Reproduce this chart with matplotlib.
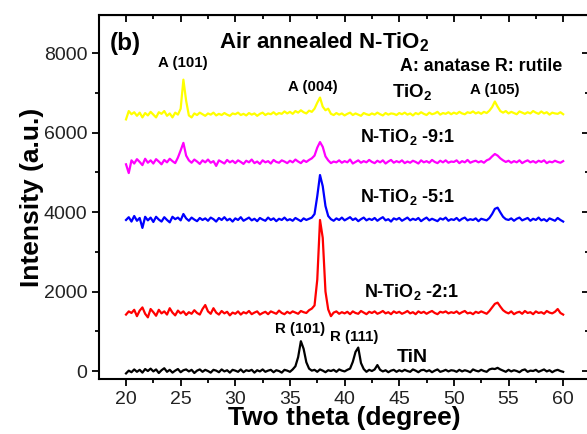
import numpy as np
import matplotlib
matplotlib.use('Agg')
import matplotlib.pyplot as plt
from matplotlib.ticker import MultipleLocator

plt.rcParams['font.family'] = ['Liberation Sans', 'DejaVu Sans']
plt.rcParams['mathtext.fontset'] = 'custom'
plt.rcParams['mathtext.rm'] = 'Liberation Sans:bold'
plt.rcParams['mathtext.bf'] = 'Liberation Sans:bold'
plt.rcParams['mathtext.default'] = 'bf'

# two theta grid, 20-60 deg, 0.25 deg step
two_theta = np.arange(161) * 0.25 + 20

tin = [-60, 10, -30, 40, -20, 30, -40, 50, 0, 60,
       -10, 40, -50, 20, 70, -20, 30, -40, 10, 50,
       -30, 20, 40, -10, 30, -50, 10, 40, -20, 30,
       0, -40, 30, 10, -30, 40, -10, 20, -40, 30,
       10, -20, 40, -30, 20, 0, 30, -40, 20, -10,
       40, -20, 10, 30, -30, 20, 0, -40, 30, 10,
       -20, 40, 120, 350, 750, 560, 220, 60, 10, 30,
       -20, 40, 10, -30, 20, 0, 30, -20, 40, 10,
       -10, 30, 60, 230, 480, 590, 200, 50, -20, 30,
       0, 40, 150, 30, -10, 20, -30, 10, 30, -20,
       20, -10, 30, 0, -20, 40, 10, -30, 20, 30,
       -10, 20, -30, 10, 40, -20, 0, 30, -10, 20,
       10, -20, 30, -10, 20, 0, -30, 40, 10, -10,
       30, 0, -20, 40, 60, 50, 80, 40, 10, -20,
       30, -10, 20, 0, -30, 20, 40, -20, 10, 0,
       30, -20, 10, 40, -10, 20, -30, 10, 30, 0,
       -20]

ratio_2 = [1420, 1500, 1460, 1540, 1380, 1520, 1600, 1440, 1350, 1560,
           1480, 1390, 1540, 1450, 1500, 1420, 1580, 1470, 1400, 1520,
           1450, 1500, 1410, 1480, 1440, 1530, 1460, 1420, 1560, 1660,
           1500, 1440, 1580, 1470, 1420, 1510, 1450, 1490, 1400, 1470,
           1440, 1500, 1420, 1480, 1450, 1510, 1430, 1470, 1500, 1420,
           1460, 1490, 1430, 1500, 1470, 1440, 1520, 1460, 1430, 1490,
           1450, 1500, 1470, 1440, 1510, 1480, 1460, 1530, 1570, 1650,
           2300, 3800, 3350, 2000, 1550, 1380, 1470, 1500, 1440, 1480,
           1450, 1490, 1430, 1500, 1460, 1440, 1510, 1470, 1430, 1490,
           1460, 1500, 1440, 1470, 1510, 1450, 1480, 1430, 1500, 1460,
           1490, 1440, 1470, 1510, 1450, 1480, 1430, 1500, 1460, 1490,
           1440, 1480, 1510, 1460, 1430, 1490, 1470, 1500, 1450, 1480,
           1460, 1500, 1440, 1480, 1510, 1450, 1470, 1430, 1490, 1460,
           1500, 1470, 1440, 1510, 1600, 1690, 1720, 1620, 1530, 1480,
           1450, 1500, 1430, 1470, 1490, 1440, 1510, 1460, 1480, 1430,
           1500, 1460, 1480, 1440, 1510, 1470, 1450, 1490, 1560, 1460,
           1420]

ratio_5 = [3800, 3870, 3760, 3900, 3780, 3850, 3600, 3880, 3790, 3860,
           3750, 3880, 3810, 3760, 3870, 3800, 3740, 3880, 3820, 3860,
           3790, 3950, 3840, 3780, 3860, 3810, 3770, 3850, 3800, 3840,
           3780, 3860, 3820, 3760, 3850, 3800, 3870, 3790, 3830, 3760,
           3840, 3800, 3870, 3780, 3820, 3860, 3790, 3830, 3770, 3850,
           3810, 3780, 3860, 3800, 3840, 3770, 3830, 3800, 3860, 3790,
           3820, 3780, 3850, 3810, 3770, 3840, 3800, 3830, 3860, 3950,
           4400, 4930, 4650, 4150, 3900, 3820, 3780, 3840, 3800, 3860,
           3790, 3830, 3870, 3800, 3840, 3770, 3820, 3860, 3790, 3830,
           3800, 3850, 3780, 3830, 3870, 3790, 3820, 3760, 3840, 3810,
           3850, 3780, 3820, 3860, 3790, 3830, 3800, 3850, 3770, 3820,
           3860, 3790, 3830, 3800, 3770, 3840, 3810, 3860, 3780, 3820,
           3800, 3850, 3780, 3830, 3860, 3790, 3820, 3800, 3840, 3770,
           3830, 3810, 3790, 3850, 3950, 4080, 4110, 3990, 3880, 3820,
           3800, 3840, 3780, 3830, 3860, 3790, 3820, 3850, 3780, 3830,
           3800, 3860, 3790, 3820, 3770, 3840, 3810, 3780, 3850, 3800,
           3760]

ratio_9 = [5200, 4980, 5300, 5220, 5330, 5260, 5180, 5340, 5240, 5300,
           5220, 5330, 5270, 5200, 5310, 5250, 5340, 5280, 5230, 5370,
           5550, 5740, 5420, 5300, 5240, 5320, 5270, 5210, 5300, 5250,
           5320, 5240, 5280, 5160, 5300, 5260, 5220, 5310, 5250, 5290,
           5230, 5300, 5260, 5210, 5290, 5250, 5320, 5230, 5270, 5210,
           5300, 5250, 5280, 5220, 5310, 5260, 5240, 5300, 5270, 5230,
           5290, 5250, 5320, 5270, 5230, 5300, 5260, 5310, 5350, 5420,
           5620, 5760, 5640, 5400, 5300, 5230, 5270, 5250, 5300, 5240,
           5280, 5250, 5320, 5220, 5260, 5300, 5240, 5280, 5250, 5310,
           5260, 5230, 5290, 5250, 5300, 5220, 5270, 5310, 5240, 5280,
           5250, 5300, 5230, 5270, 5240, 5290, 5260, 5220, 5300, 5250,
           5280, 5240, 5310, 5260, 5230, 5290, 5250, 5300, 5240, 5270,
           5260, 5300, 5230, 5280, 5250, 5310, 5240, 5270, 5290, 5250,
           5280, 5240, 5300, 5330, 5400, 5460, 5420, 5350, 5300, 5260,
           5290, 5240, 5280, 5250, 5300, 5230, 5270, 5300, 5250, 5280,
           5240, 5290, 5260, 5300, 5230, 5270, 5250, 5290, 5260, 5240,
           5280]

tio2 = [6330, 6540, 6460, 6510, 6420, 6500, 6380, 6490, 6430, 6520,
        6450, 6380, 6510, 6470, 6540, 6420, 6480, 6380, 6500, 6450,
        6600, 7330, 6800, 6430, 6380, 6480, 6440, 6500, 6460, 6420,
        6480, 6450, 6500, 6430, 6470, 6440, 6490, 6450, 6420, 6480,
        6460, 6500, 6440, 6470, 6430, 6490, 6450, 6480, 6420, 6470,
        6500, 6440, 6480, 6460, 6510, 6450, 6490, 6470, 6530, 6480,
        6520, 6470, 6540, 6500, 6560, 6510, 6480, 6550, 6520, 6600,
        6750, 6880, 6650, 6560, 6600, 6470, 6440, 6490, 6450, 6480,
        6430, 6470, 6500, 6440, 6480, 6450, 6420, 6490, 6460, 6440,
        6480, 6450, 6500, 6460, 6430, 6490, 6450, 6480, 6470, 6440,
        6490, 6460, 6500, 6450, 6480, 6430, 6490, 6460, 6510, 6470,
        6440, 6500, 6460, 6480, 6520, 6450, 6490, 6470, 6510, 6460,
        6500, 6470, 6520, 6480, 6460, 6510, 6490, 6530, 6480, 6510,
        6470, 6520, 6490, 6550, 6640, 6780, 6650, 6540, 6500, 6540,
        6480, 6520, 6490, 6460, 6530, 6500, 6470, 6510, 6480, 6540,
        6500, 6470, 6530, 6480, 6510, 6450, 6500, 6480, 6470, 6510,
        6460]

fig = plt.figure(figsize=(5.87, 4.34), dpi=100)
ax = fig.add_axes([0.1687, 0.1267, 0.835, 0.8387])

lw = 1.6
ax.plot(two_theta, tin, color='black', lw=lw)
ax.plot(two_theta, ratio_2, color='#ff0000', lw=lw)
ax.plot(two_theta, ratio_5, color='#0000ff', lw=lw)
ax.plot(two_theta, ratio_9, color='#ff00ff', lw=lw)
ax.plot(two_theta, tio2, color='#ffff00', lw=lw)

ax.set_xlim(17.53, 62.38)
ax.set_ylim(-201, 8956)
ax.xaxis.set_major_locator(MultipleLocator(5))
ax.xaxis.set_minor_locator(MultipleLocator(2.5))
ax.yaxis.set_major_locator(MultipleLocator(2000))
ax.yaxis.set_minor_locator(MultipleLocator(1000))
ax.tick_params(which='both', direction='out', width=1.3, labelsize=14,
               labelcolor='#222222', top=False, right=False)
ax.tick_params(which='major', length=5)
ax.tick_params(which='minor', length=3)
for s in ax.spines.values():
    s.set_linewidth(1.5)

# top and right ticks point inward
top = ax.secondary_xaxis('top')
top.xaxis.set_major_locator(MultipleLocator(5))
top.xaxis.set_minor_locator(MultipleLocator(2.5))
top.tick_params(which='both', direction='in', width=1.3, labeltop=False)
top.tick_params(which='major', length=5)
top.tick_params(which='minor', length=3)
right = ax.secondary_yaxis('right')
right.yaxis.set_major_locator(MultipleLocator(2000))
right.yaxis.set_minor_locator(MultipleLocator(1000))
right.tick_params(which='both', direction='in', width=1.3, labelright=False)
right.tick_params(which='major', length=5)
right.tick_params(which='minor', length=3)

ax.set_xlabel('Two theta (degree)', fontsize=19, fontweight='bold', labelpad=-1)
ax.set_ylabel('Intensity (a.u.)', fontsize=19, fontweight='bold', labelpad=0)

kw = dict(fontweight='bold', va='center')
ax.text(18.5, 8250, '(b)', fontsize=17.5, ha='left', **kw)
ax.text(38.1, 8280, 'Air annealed N-TiO$_2$', fontsize=16, ha='center', **kw)
ax.text(59.9, 7650, 'A: anatase R: rutile', fontsize=12.8, ha='right', **kw)
ax.text(25.2, 7750, 'A (101)', fontsize=10.8, ha='center', **kw)
ax.text(37.1, 7145, 'A (004)', fontsize=10.8, ha='center', **kw)
ax.text(53.7, 7070, 'A (105)', fontsize=10.8, ha='center', **kw)
ax.text(46.2, 7020, 'TiO$_2$', fontsize=13.5, ha='center', **kw)
ax.text(41.4, 5890, 'N-TiO$_2$ -9:1', fontsize=13, ha='left', **kw)
ax.text(41.4, 4380, 'N-TiO$_2$ -5:1', fontsize=13, ha='left', **kw)
ax.text(41.8, 1990, 'N-TiO$_2$ -2:1', fontsize=13, ha='left', **kw)
ax.text(35.9, 1060, 'R (101)', fontsize=10.8, ha='center', **kw)
ax.text(40.9, 855, 'R (111)', fontsize=10.8, ha='center', **kw)
ax.text(44.8, 330, 'TiN', fontsize=14, ha='left', **kw)

fig.savefig('out.png', dpi=100)
